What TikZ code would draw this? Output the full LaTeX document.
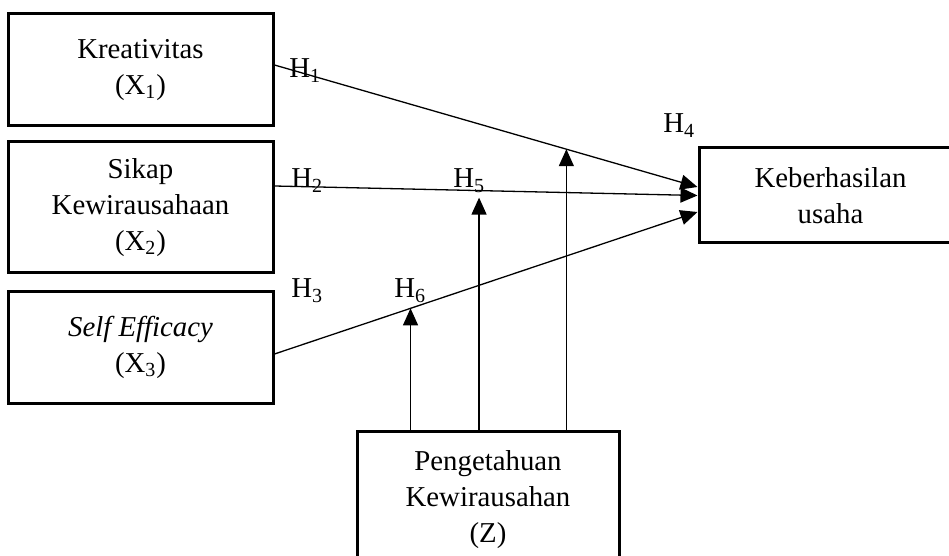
\documentclass[tikz,border=0pt]{standalone}
\usepackage{fontspec}
\setmainfont{Liberation Serif}
\usetikzlibrary{arrows.meta}
\begin{document}
\begin{tikzpicture}[x=0.5pt,y=-0.5pt,
  box/.style={draw,line width=1.5pt,align=center,inner sep=0pt,font=\fontsize{14.4}{18}\selectfont},
  arr/.style={line width=0.65pt,-{Triangle[length=8.5pt,width=7.5pt]}},
  lab/.style={anchor=base west,inner sep=0pt,font=\fontsize{14.4}{18}\selectfont}]
\useasboundingbox (0,0) rectangle (949,556);
\node[box,minimum width=132.5pt,minimum height=56pt] (x1) at (140.5,70) {Kreativitas\\(X\textsubscript{1})};
\node[box,minimum width=132.5pt,minimum height=65.5pt] (x2) at (140.5,207.5) {Sikap\\Kewirausahaan\\(X\textsubscript{2})};
\node[box,minimum width=132.5pt,minimum height=56pt] (x3) at (140.5,347) {\textit{Self Efficacy}\\(X\textsubscript{3})};
\node[box,minimum width=131.5pt,minimum height=47.5pt] (y) at (830.5,195.5) {Keberhasilan\\usaha};
\node[box,minimum width=131pt,minimum height=69pt] (z) at (488,500) {Pengetahuan\\Kewirausahan\\(Z)};

\draw[arr] ([yshift=2.5pt]x1.east) -- ([yshift=4.25pt]y.west) coordinate[pos=0.69] (m1);
\draw[arr] ([yshift=10.75pt]x2.east) -- (y.west) coordinate[pos=0.4836] (m2);
\draw[arr] ([yshift=-3.5pt]x3.east) -- ([yshift=-8.25pt]y.west) coordinate[pos=0.3216] (m3);

\draw[arr] (z.north -| m1) -- (m1);
\draw[arr] (z.north -| m2) -- ([yshift=-3.5pt]m2);
\draw[arr] (z.north -| m3) -- (m3);

\node[lab] (h1) at (289,78) {H\textsubscript{1}};
\node[lab] (h2) at (291,188) {H\textsubscript{2}};
\node[lab] (h3) at (291,298) {H\textsubscript{3}};
\node[lab] (h4) at (663,133) {H\textsubscript{4}};
\node[lab] (h5) at (453,188) {H\textsubscript{5}};
\node[lab] (h6) at (394,298) {H\textsubscript{6}};
\end{tikzpicture}
\end{document}
